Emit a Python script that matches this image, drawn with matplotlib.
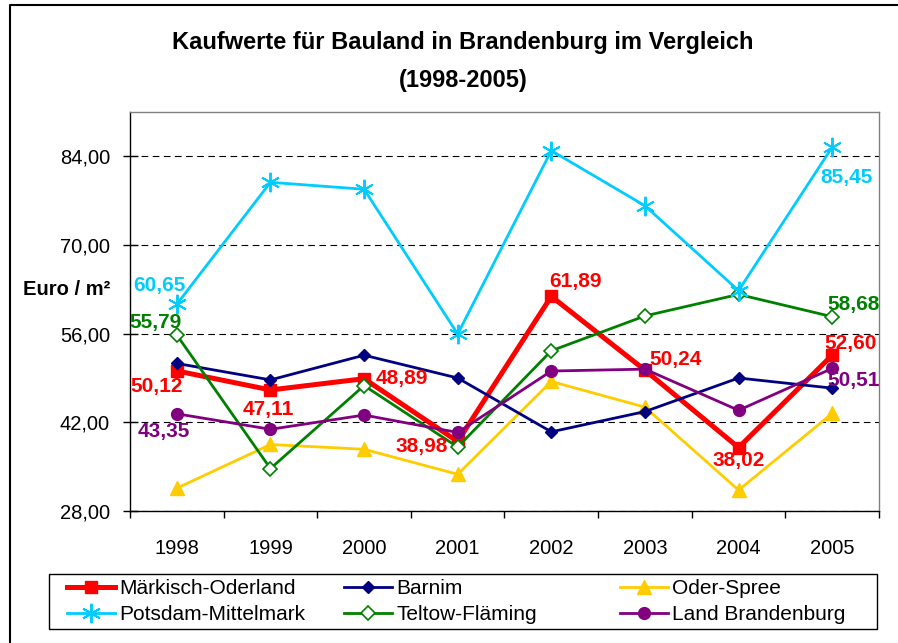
import matplotlib
matplotlib.use("Agg")
import matplotlib.pyplot as plt
from matplotlib.lines import Line2D
from matplotlib.patches import Rectangle

plt.rcParams['font.family'] = ['Liberation Sans', 'DejaVu Sans']

years = ['1998', '1999', '2000', '2001', '2002', '2003', '2004', '2005']
yticks = [28, 42, 56, 70, 84]
ytick_labels = ['28,00', '42,00', '56,00', '70,00', '84,00']

maerkisch_oderland = [50.12, 47.11, 48.89, 38.98, 61.89, 50.24, 38.02, 52.60]
barnim = [51.3, 48.7, 52.6, 49.0, 40.5, 43.7, 49.0, 47.4]
oder_spree = [31.6, 38.5, 37.75, 33.8, 48.45, 44.4, 31.3, 43.4]
potsdam_mittelmark = [60.65, 79.9, 78.8, 55.95, 84.9, 76.2, 62.8, 85.45]
teltow_flaeming = [55.79, 34.7, 47.8, 38.1, 53.3, 58.8, 62.2, 58.68]
land_brandenburg = [43.35, 40.9, 43.15, 40.4, 50.1, 50.4, 43.9, 50.51]

W, H = 898, 643
fig = plt.figure(figsize=(W / 100, H / 100), dpi=100)
ax = fig.add_axes([130 / W, (H - 511) / H, 749 / W, (511 - 112) / H])

x = list(range(len(years)))

l_mo, = ax.plot(x, maerkisch_oderland, color='#FF0000', lw=3.6, marker='s',
                markersize=8.5, zorder=2, label='Märkisch-Oderland')
l_ba, = ax.plot(x, barnim, color='#000080', lw=2.0, marker='D',
                markersize=6.5, zorder=4, label='Barnim')
l_os, = ax.plot(x, oder_spree, color='#FFCC00', lw=2.0, marker='^',
                markersize=9.5, zorder=3, label='Oder-Spree')
l_pm, = ax.plot(x, potsdam_mittelmark, color='#00CCFF', lw=2.0, marker=(6, 2, 0),
                markersize=14, markeredgewidth=1.4, zorder=6, label='Potsdam-Mittelmark')
l_tf, = ax.plot(x, teltow_flaeming, color='#008000', lw=2.0, marker='D',
                markersize=7.5, markerfacecolor='white', markeredgecolor='#008000',
                markeredgewidth=1.2, zorder=5, label='Teltow-Fläming')
l_lb, = ax.plot(x, land_brandenburg, color='#800080', lw=2.0, marker='o',
                markersize=8.5, zorder=7, label='Land Brandenburg')

ax.set_xlim(-0.5, 7.5)
ax.set_ylim(28, 91)

ax.set_yticks(yticks)
ax.set_yticklabels(ytick_labels)
ax.tick_params(axis='y', direction='inout', length=10.8, width=1, pad=9,
               labelsize=14.5)

ax.set_xticks([i - 0.5 for i in range(len(years) + 1)])
ax.set_xticklabels([])
ax.tick_params(axis='x', which='major', direction='out', length=5, width=1)
ax.set_xticks(x, minor=True)
ax.set_xticklabels(years, minor=True)
ax.tick_params(axis='x', which='minor', length=0, pad=20, labelsize=14.5)

ax.yaxis.grid(True, linestyle=(0, (6, 4)), color='black', lw=0.8)
ax.set_axisbelow(True)

for s in ['top', 'right']:
    ax.spines[s].set_color('#808080')
    ax.spines[s].set_linewidth(1)
for s in ['left', 'bottom']:
    ax.spines[s].set_color('black')
    ax.spines[s].set_linewidth(1)

# data labels
def lab(series, i, dx, dy, color):
    v = series[i]
    txt = f"{v:.2f}".replace('.', ',')
    ax.annotate(txt, (x[i], v), xytext=(dx, dy), textcoords='offset pixels',
                ha='center', va='center', fontsize=15, fontweight='bold',
                color=color, zorder=10)

red = '#FF0000'
lab(maerkisch_oderland, 0, -20, -16, red)
lab(maerkisch_oderland, 1, -2, -20, red)
lab(maerkisch_oderland, 2, 38, 0, red)
lab(maerkisch_oderland, 3, -36, -5, red)
lab(maerkisch_oderland, 4, 24, 15, red)
lab(maerkisch_oderland, 5, 31, 11, red)
lab(maerkisch_oderland, 6, 0, -13, red)
lab(maerkisch_oderland, 7, 18, 12, red)
lab(potsdam_mittelmark, 0, -17, 19, '#00CCFF')
lab(potsdam_mittelmark, 7, 14, -30, '#00CCFF')
lab(teltow_flaeming, 0, -21, 12, '#008000')
lab(teltow_flaeming, 7, 21, 12, '#008000')
lab(land_brandenburg, 0, -13, -18, '#800080')
lab(land_brandenburg, 7, 21, -12, '#800080')

# titles
fig.text(463 / W, 1 - 42 / H, 'Kaufwerte für Bauland in Brandenburg im Vergleich',
         ha='center', va='center', fontsize=17, fontweight='bold')
fig.text(463 / W, 1 - 81 / H, '(1998-2005)', ha='center', va='center',
         fontsize=17, fontweight='bold')
fig.text(110 / W, 1 - 289 / H, 'Euro / m²', ha='right', va='center',
         fontsize=14.5, fontweight='bold')

# legend frame
fig.patches.append(Rectangle((49 / W, 1 - 629 / H), (877 - 49) / W, 55 / H,
                             transform=fig.transFigure, fill=False,
                             edgecolor='black', lw=1))
cols = [([l_mo, l_pm], 67), ([l_ba, l_tf], 344), ([l_os, l_lb], 620)]
for handles, xpos in cols:
    fig.legend(handles=handles, loc='center left',
               bbox_to_anchor=(xpos / W, 1 - 601.5 / H), frameon=False,
               fontsize=15, borderpad=0, borderaxespad=0, handlelength=2.3,
               handletextpad=0.2, labelspacing=0.35)

# outer chart frame
fig.add_artist(Line2D([10 / W, 10 / W, 1.0], [0, 1 - 5 / H, 1 - 5 / H],
                      transform=fig.transFigure, color='black', lw=1.5))

fig.savefig('out.png', dpi=100)
